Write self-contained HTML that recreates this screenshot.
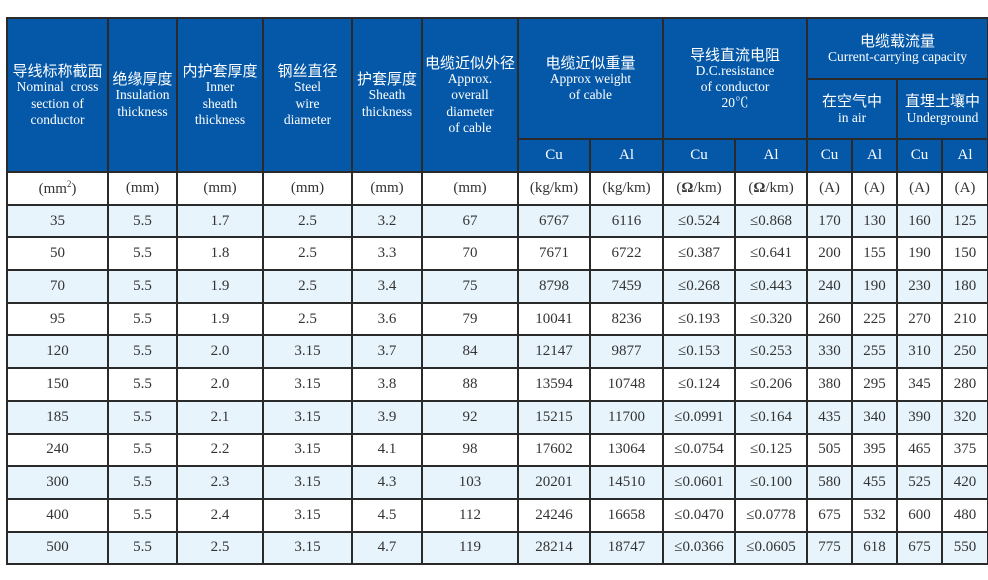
<!DOCTYPE html>
<html><head><meta charset="utf-8"><style>
body{margin:0;background:#fff;width:988px;height:580px;overflow:hidden}
table{position:absolute;left:6px;top:17px;border-collapse:collapse;table-layout:fixed;width:981px;font-family:"Liberation Serif","Noto Serif CJK SC",serif;color:#333}
td{border:2px solid #2a2a2a;text-align:center;padding:0;font-size:15px;overflow:hidden;white-space:nowrap}
.h{background:#0558a8;color:#fff;line-height:1.15}
.h b{font-family:"Noto Sans CJK SC",sans-serif;font-weight:normal;font-size:15px;display:block}
.h i{font-style:normal;font-size:13.5px;display:block;line-height:1.2}
.h2 td{font-size:15px}
tr.d td{height:30.7px}
tr.o td{background:#e8f4fc}
</style></head><body>
<table>
<colgroup><col style="width:101px"><col style="width:69px"><col style="width:86px"><col style="width:89px"><col style="width:70px"><col style="width:96px"><col style="width:72px"><col style="width:73px"><col style="width:72px"><col style="width:72px"><col style="width:45px"><col style="width:45px"><col style="width:45px"><col style="width:46px"></colgroup>
<tr style="height:61px">
<td class="h" rowspan="3"><b>导线标称截面</b><i>Nominal&nbsp; cross</i><i>section of</i><i>conductor</i></td>
<td class="h" rowspan="3"><b>绝缘厚度</b><i>Insulation</i><i>thickness</i></td>
<td class="h" rowspan="3"><b>内护套厚度</b><i>Inner</i><i>sheath</i><i>thickness</i></td>
<td class="h" rowspan="3"><b>钢丝直径</b><i>Steel</i><i>wire</i><i>diameter</i></td>
<td class="h" rowspan="3"><b>护套厚度</b><i>Sheath</i><i>thickness</i></td>
<td class="h" rowspan="3"><b>电缆近似外径</b><i>Approx.</i><i>overall</i><i>diameter</i><i>of cable</i></td>
<td class="h" rowspan="2" colspan="2"><b>电缆近似重量</b><i>Approx weight</i><i>of cable</i></td>
<td class="h" rowspan="2" colspan="2"><b>导线直流电阻</b><i>D.C.resistance</i><i>of conductor</i><i>20℃</i></td>
<td class="h" colspan="4"><b>电缆载流量</b><i>Current-carrying capacity</i></td>
</tr>
<tr style="height:60px">
<td class="h" colspan="2"><b>在空气中</b><i>in air</i></td>
<td class="h" colspan="2"><b>直埋土壤中</b><i>Underground</i></td>
</tr>
<tr style="height:33px" class="h2">
<td class="h">Cu</td><td class="h">Al</td><td class="h">Cu</td><td class="h">Al</td><td class="h">Cu</td><td class="h">Al</td><td class="h">Cu</td><td class="h">Al</td>
</tr>
<tr class="d"><td>(mm<sup style="font-size:9px">2</sup>)</td><td>(mm)</td><td>(mm)</td><td>(mm)</td><td>(mm)</td><td>(mm)</td><td>(kg/km)</td><td>(kg/km)</td><td>(<b>Ω</b>/km)</td><td>(<b>Ω</b>/km)</td><td>(A)</td><td>(A)</td><td>(A)</td><td>(A)</td></tr>
<tr class="d o"><td>35</td><td>5.5</td><td>1.7</td><td>2.5</td><td>3.2</td><td>67</td><td>6767</td><td>6116</td><td>≤0.524</td><td>≤0.868</td><td>170</td><td>130</td><td>160</td><td>125</td></tr>
<tr class="d"><td>50</td><td>5.5</td><td>1.8</td><td>2.5</td><td>3.3</td><td>70</td><td>7671</td><td>6722</td><td>≤0.387</td><td>≤0.641</td><td>200</td><td>155</td><td>190</td><td>150</td></tr>
<tr class="d o"><td>70</td><td>5.5</td><td>1.9</td><td>2.5</td><td>3.4</td><td>75</td><td>8798</td><td>7459</td><td>≤0.268</td><td>≤0.443</td><td>240</td><td>190</td><td>230</td><td>180</td></tr>
<tr class="d"><td>95</td><td>5.5</td><td>1.9</td><td>2.5</td><td>3.6</td><td>79</td><td>10041</td><td>8236</td><td>≤0.193</td><td>≤0.320</td><td>260</td><td>225</td><td>270</td><td>210</td></tr>
<tr class="d o"><td>120</td><td>5.5</td><td>2.0</td><td>3.15</td><td>3.7</td><td>84</td><td>12147</td><td>9877</td><td>≤0.153</td><td>≤0.253</td><td>330</td><td>255</td><td>310</td><td>250</td></tr>
<tr class="d"><td>150</td><td>5.5</td><td>2.0</td><td>3.15</td><td>3.8</td><td>88</td><td>13594</td><td>10748</td><td>≤0.124</td><td>≤0.206</td><td>380</td><td>295</td><td>345</td><td>280</td></tr>
<tr class="d o"><td>185</td><td>5.5</td><td>2.1</td><td>3.15</td><td>3.9</td><td>92</td><td>15215</td><td>11700</td><td>≤0.0991</td><td>≤0.164</td><td>435</td><td>340</td><td>390</td><td>320</td></tr>
<tr class="d"><td>240</td><td>5.5</td><td>2.2</td><td>3.15</td><td>4.1</td><td>98</td><td>17602</td><td>13064</td><td>≤0.0754</td><td>≤0.125</td><td>505</td><td>395</td><td>465</td><td>375</td></tr>
<tr class="d o"><td>300</td><td>5.5</td><td>2.3</td><td>3.15</td><td>4.3</td><td>103</td><td>20201</td><td>14510</td><td>≤0.0601</td><td>≤0.100</td><td>580</td><td>455</td><td>525</td><td>420</td></tr>
<tr class="d"><td>400</td><td>5.5</td><td>2.4</td><td>3.15</td><td>4.5</td><td>112</td><td>24246</td><td>16658</td><td>≤0.0470</td><td>≤0.0778</td><td>675</td><td>532</td><td>600</td><td>480</td></tr>
<tr class="d o"><td>500</td><td>5.5</td><td>2.5</td><td>3.15</td><td>4.7</td><td>119</td><td>28214</td><td>18747</td><td>≤0.0366</td><td>≤0.0605</td><td>775</td><td>618</td><td>675</td><td>550</td></tr>
</table>
</body></html>
